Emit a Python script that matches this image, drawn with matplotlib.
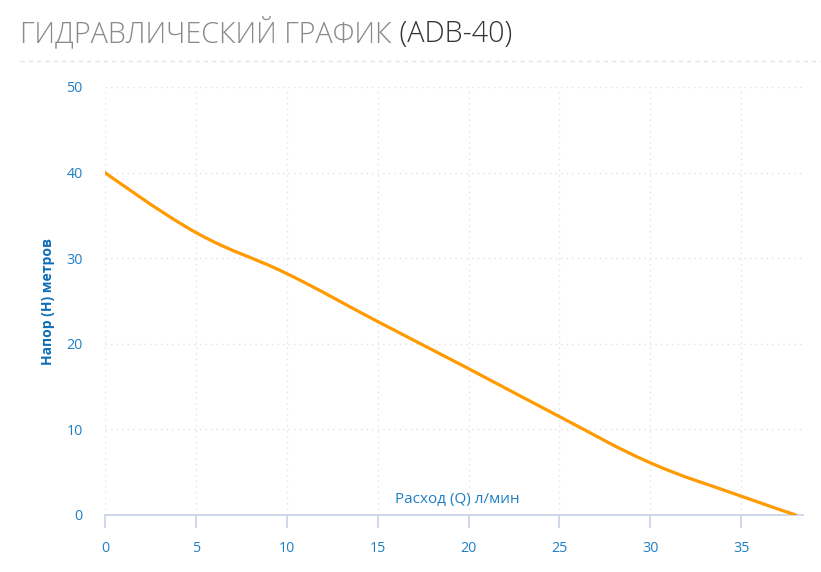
import matplotlib
matplotlib.use("Agg")
import matplotlib.pyplot as plt
from matplotlib.lines import Line2D
from matplotlib.path import Path
from matplotlib.patches import PathPatch

# расход (л/мин) и напор (м)
flow = [0, 5, 10, 15, 20, 25, 30, 35, 38]
head = [40, 33.0, 28.2, 22.6, 17.1, 11.5, 6.1, 2.2, 0]
x_ticks = [0, 5, 10, 15, 20, 25, 30, 35]
y_ticks = [0, 10, 20, 30, 40, 50]

title_main = "ГИДРАВЛИЧЕСКИЙ ГРАФИК"
title_model = " (ADB-40)"
x_label = "Расход (Q) л/мин"
y_label = "Напор (H) метров"

blue = "#1f7fc4"
plt.rcParams['font.family'] = ['Open Sans', 'DejaVu Sans']


def spline_path(xs, ys, smoothing=1.5):
    # сглаженная линия как в highcharts (кривые Безье через точки)
    n = len(xs)
    left, right = [], []
    for i in range(n):
        x, y = xs[i], ys[i]
        if i == 0 or i == n - 1:
            left.append((x, y))
            right.append((x, y))
            continue
        d = smoothing + 1
        lx = (smoothing * x + xs[i - 1]) / d
        ly = (smoothing * y + ys[i - 1]) / d
        rx = (smoothing * x + xs[i + 1]) / d
        ry = (smoothing * y + ys[i + 1]) / d
        corr = (ry - ly) * (rx - x) / (rx - lx) + y - ry
        left.append((lx, ly + corr))
        right.append((rx, ry + corr))
    verts = [(xs[0], ys[0])]
    codes = [Path.MOVETO]
    for i in range(1, n):
        verts += [right[i - 1], left[i], (xs[i], ys[i])]
        codes += [Path.CURVE4] * 3
    return Path(verts, codes)


fig = plt.figure(figsize=(8.21, 5.72), dpi=100)
ax = fig.add_axes([105 / 821, 1 - 515 / 572, 698 / 821, 428 / 572])

ax.add_patch(PathPatch(spline_path(flow, head), facecolor="none", edgecolor="#ff9a00",
                       lw=2.3, capstyle="round", zorder=3))

ax.set_xlim(0, 38.4)
ax.set_ylim(0, 50)
ax.set_xticks(x_ticks)
ax.set_yticks(y_ticks)
ax.grid(True, color="#e2e2e2", linestyle=(0, (1, 3)), lw=1)
ax.set_axisbelow(True)

for side in ["top", "right", "left"]:
    ax.spines[side].set_visible(False)
ax.spines["bottom"].set_color("#ccd6eb")
ax.spines["bottom"].set_linewidth(1.3)

ax.tick_params(axis="x", colors="#ccd6eb", length=9, width=1.3, labelcolor=blue,
               labelsize=10.3, pad=10)
ax.tick_params(axis="y", length=0, labelcolor=blue, labelsize=10.3, pad=16)

ax.text(0.505, 0.018, x_label, transform=ax.transAxes, color=blue, fontsize=11,
        ha="center", va="bottom")
fig.text(48 / 821, 1 - 302 / 572, y_label, rotation=90, color="#0b6db5", fontsize=10,
         fontweight="bold", ha="center", va="center")

# заголовок из двух частей разного цвета
t1 = fig.text(20 / 821, 1 - 42 / 572, title_main, color="#8a8a8a", fontsize=20.7,
              fontweight="light", ha="left", va="baseline")
fig.canvas.draw()
bb = t1.get_window_extent()
fig.text(bb.x1 / 821, 1 - 42 / 572, title_model, color="#333333", fontsize=20.7,
         fontweight="light", ha="left", va="baseline")

fig.add_artist(Line2D([20 / 821, 1], [1 - 61 / 572, 1 - 61 / 572], transform=fig.transFigure,
                      color="#e4e4e4", lw=1, linestyle=(0, (3, 3))))

fig.savefig("out.png", dpi=100)
